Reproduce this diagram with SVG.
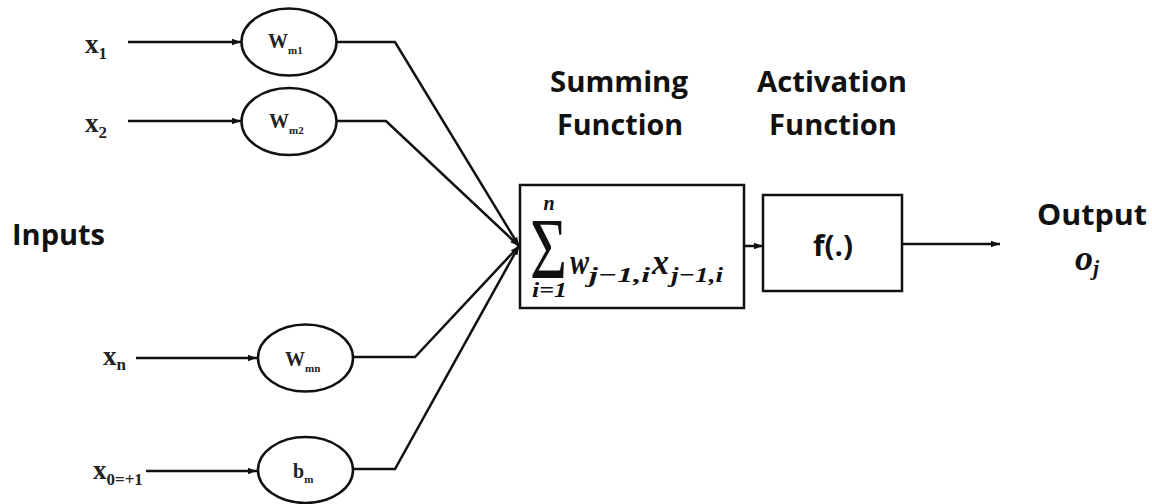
<svg xmlns="http://www.w3.org/2000/svg" width="1152" height="504" viewBox="0 0 1152 504">
<style>
.lbl{font-family:"Open Sans","Liberation Sans",sans-serif;font-weight:bold;font-size:28px;fill:#111}
.tm{font-family:"Liberation Serif",serif;font-weight:bold;fill:#222}
.mi{font-family:"Liberation Serif",serif;font-weight:bold;font-style:italic;fill:#111}
.shape{fill:#fff;stroke:#111;stroke-width:2.5}
.conn{fill:none;stroke:#111;stroke-width:2.5}
</style>
<defs>
<marker id="ah" markerUnits="userSpaceOnUse" markerWidth="9" markerHeight="8" refX="9" refY="4" orient="auto">
<path d="M0,0.8 L9,4 L0,7.2 Z" fill="#111"/>
</marker>
</defs>
<rect width="1152" height="504" fill="#fff"/>

<g id="connectors">
<path class="conn" d="M128,42 H241" marker-end="url(#ah)"/>
<path class="conn" d="M128,121 H241" marker-end="url(#ah)"/>
<path class="conn" d="M136,358 H257" marker-end="url(#ah)"/>
<path class="conn" d="M146,471 H257" marker-end="url(#ah)"/>
<path class="conn" d="M337,42 H395 L519,246" marker-end="url(#ah)"/>
<path class="conn" d="M337,121 H386 L519,246" marker-end="url(#ah)"/>
<path class="conn" d="M353,357 H415 L519,246" marker-end="url(#ah)"/>
<path class="conn" d="M353,469 H395 L519,246" marker-end="url(#ah)"/>
<path class="conn" d="M744,246 H763" marker-end="url(#ah)"/>
<path class="conn" d="M902,244 H1000" marker-end="url(#ah)"/>
</g>

<g id="input-x1"><text class="tm" x="85" y="53" font-size="27">x<tspan font-size="17" dy="6">1</tspan></text></g>
<g id="input-x2"><text class="tm" x="85" y="132" font-size="27">x<tspan font-size="17" dy="6">2</tspan></text></g>
<g id="input-xn"><text class="tm" x="103" y="365" font-size="27">x<tspan font-size="17" dy="5">n</tspan></text></g>
<g id="input-x0"><text class="tm" x="93" y="479" font-size="27">x<tspan font-size="17" dy="6">0=+1</tspan></text></g>

<g id="inputs-label"><text class="lbl" x="12" y="245" font-size="30" textLength="93" lengthAdjust="spacingAndGlyphs">Inputs</text></g>

<g id="w-m1">
<ellipse class="shape" cx="289" cy="42" rx="47.5" ry="33.5"/>
<text class="tm" x="268" y="48" font-size="20">W<tspan font-size="11" dy="6">m1</tspan></text>
</g>
<g id="w-m2">
<ellipse class="shape" cx="289" cy="121.5" rx="47.5" ry="33.5"/>
<text class="tm" x="269" y="128" font-size="20">W<tspan font-size="11" dy="6">m2</tspan></text>
</g>
<g id="w-mn">
<ellipse class="shape" cx="305.5" cy="358" rx="47.5" ry="33.5"/>
<text class="tm" x="285" y="366" font-size="20">W<tspan font-size="11" dy="6">mn</tspan></text>
</g>
<g id="b-m">
<ellipse class="shape" cx="305.5" cy="470" rx="47.5" ry="33"/>
<text class="tm" x="293" y="478" font-size="20">b<tspan font-size="11" dy="5">m</tspan></text>
</g>

<g id="summing">
<rect class="shape" x="520" y="185" width="224" height="123"/>
<text x="530" y="278" font-family="Liberation Serif,serif" font-size="86" fill="#111" textLength="37" lengthAdjust="spacingAndGlyphs">Σ</text>
<text class="mi" x="549" y="210" font-size="20" text-anchor="middle">n</text>
<text class="mi" x="532" y="297" font-size="21" textLength="35" lengthAdjust="spacingAndGlyphs">i=1</text>
<text class="mi" x="570" y="274" font-size="36" textLength="19" lengthAdjust="spacingAndGlyphs">w</text>
<text class="mi" x="589" y="282" font-size="22" textLength="61" lengthAdjust="spacingAndGlyphs">j−1,i</text>
<text class="mi" x="652" y="274" font-size="36" textLength="17" lengthAdjust="spacingAndGlyphs">x</text>
<text class="mi" x="671" y="282" font-size="22" textLength="52" lengthAdjust="spacingAndGlyphs">j−1,i</text>
</g>
<g id="summing-label">
<text class="lbl" x="619" y="92" text-anchor="middle" textLength="138" lengthAdjust="spacingAndGlyphs">Summing</text>
<text class="lbl" x="620" y="135" text-anchor="middle" textLength="126" lengthAdjust="spacingAndGlyphs">Function</text>
</g>

<g id="activation">
<rect class="shape" x="763" y="195" width="139" height="96"/>
<text class="lbl" x="833" y="256" text-anchor="middle" textLength="40" lengthAdjust="spacingAndGlyphs">f(.)</text>
</g>
<g id="activation-label">
<text class="lbl" x="832" y="92" text-anchor="middle" textLength="150" lengthAdjust="spacingAndGlyphs">Activation</text>
<text class="lbl" x="833" y="135" text-anchor="middle" textLength="128" lengthAdjust="spacingAndGlyphs">Function</text>
</g>

<g id="output">
<text class="lbl" x="1037" y="225" textLength="110" lengthAdjust="spacingAndGlyphs">Output</text>
<text class="mi" x="1075" y="270" font-size="36">o<tspan font-size="22" dy="5">j</tspan></text>
</g>
</svg>
